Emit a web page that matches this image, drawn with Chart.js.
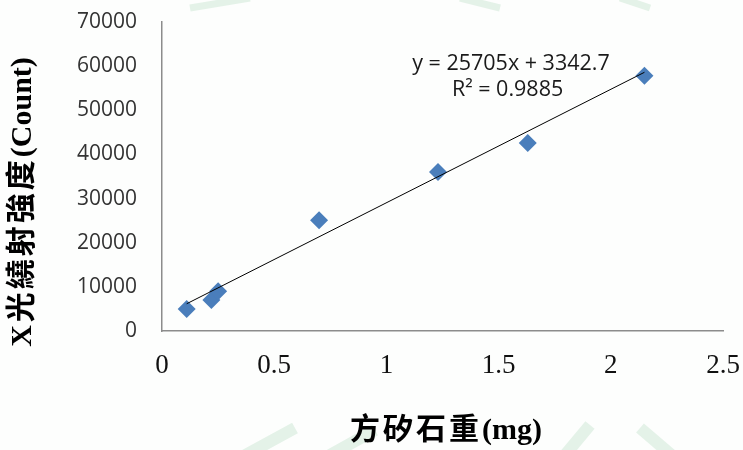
<!DOCTYPE html>
<html>
<head>
<meta charset="utf-8">
<script src="https://cdn.jsdelivr.net/npm/chart.js@4/dist/chart.umd.min.js"></script>
<style>
  html, body { margin: 0; padding: 0; background: #fdfefd; }
  #wrap { width: 743px; height: 450px; }
</style>
</head>
<body>
<div id="wrap"><canvas id="chart" width="743" height="450"></canvas></div>
<script>
// sample weights (mg) and X-ray intensity (count)
const weights = [0.11, 0.22, 0.25, 0.70, 1.23, 1.63, 2.15];
const counts = [5000, 7000, 9000, 25100, 36000, 42600, 57800];

// trendline from the equation shown on the chart
const slope = 25705;
const intercept = 3342.7;
const trendX = [0.11, 2.15];

const xTicks = [0, 0.5, 1, 1.5, 2, 2.5];
const yTicks = [0, 10000, 20000, 30000, 40000, 50000, 60000, 70000];

const equationText = "y = 25705x + 3342.7";
const r2Text = "R² = 0.9885";
const yTitleCjk = "X光繞射強度";
const yTitleLatin = "(Count)";
const xTitleCjk = "方矽石重";
const xTitleLatin = "(mg)";

const trendPoints = trendX.map(function (x) {
  return { x: x, y: slope * x + intercept };
});
const points = weights.map(function (w, i) {
  return { x: w, y: counts[i] };
});

// faint green watermark at top and bottom edges
const watermark = {
  id: "watermark",
  beforeDraw(chart) {
    const ctx = chart.ctx;
    ctx.save();
    ctx.fillStyle = "#fdfefd";
    ctx.fillRect(0, 0, chart.width, chart.height);
    ctx.strokeStyle = "rgba(140, 200, 160, 0.22)";
    ctx.lineWidth = 7;
    ctx.beginPath();
    ctx.moveTo(190, 8); ctx.lineTo(250, -2);
    ctx.moveTo(460, -2); ctx.lineTo(500, 8);
    ctx.moveTo(620, -2); ctx.lineTo(650, 8);
    ctx.stroke();
    ctx.lineWidth = 12;
    ctx.beginPath();
    ctx.moveTo(240, 458); ctx.lineTo(295, 428);
    ctx.moveTo(330, 455); ctx.lineTo(375, 430);
    ctx.moveTo(565, 455); ctx.lineTo(590, 425);
    ctx.moveTo(640, 428); ctx.lineTo(675, 458);
    ctx.stroke();
    ctx.restore();
  }
};

// draws a CJK part with letter spacing followed by a latin part without
function drawTitle(ctx, cjk, latin, cx, cy) {
  ctx.font = "bold 30px 'Liberation Serif', 'Noto Sans CJK TC'";
  ctx.letterSpacing = "3px";
  const w1 = ctx.measureText(cjk).width;
  ctx.letterSpacing = "0px";
  const w2 = ctx.measureText(latin).width;
  let x = cx - (w1 + w2) / 2;
  ctx.textAlign = "left";
  ctx.letterSpacing = "3px";
  ctx.fillText(cjk, x, cy);
  ctx.letterSpacing = "0px";
  ctx.fillText(latin, x + w1, cy);
}

// equation label and axis titles
const labels = {
  id: "labels",
  afterDraw(chart) {
    const ctx = chart.ctx;
    const xs = chart.scales.x;
    const ys = chart.scales.y;
    ctx.save();
    ctx.fillStyle = "#1a1a1a";
    ctx.font = "21.5px 'Open Sans'";
    ctx.textAlign = "center";
    ctx.textBaseline = "middle";
    ctx.fillText(equationText, xs.getPixelForValue(1.555), ys.getPixelForValue(60500));
    ctx.fillText(r2Text, xs.getPixelForValue(1.54), ys.getPixelForValue(54600));

    ctx.fillStyle = "#000";
    drawTitle(ctx, xTitleCjk, xTitleLatin, 446, 431);

    ctx.translate(23, 202);
    ctx.rotate(-Math.PI / 2);
    drawTitle(ctx, yTitleCjk, yTitleLatin, 0, 0);
    ctx.restore();
  }
};

new Chart(document.getElementById("chart"), {
  type: "scatter",
  data: {
    datasets: [
      {
        label: "trend",
        type: "line",
        data: trendPoints,
        borderColor: "#000",
        borderWidth: 1,
        pointRadius: 0,
        fill: false
      },
      {
        label: "data",
        data: points,
        pointStyle: "rectRot",
        pointRadius: 9,
        pointHoverRadius: 9,
        backgroundColor: "#4a7ebb",
        borderColor: "#4a7ebb",
        borderWidth: 0
      }
    ]
  },
  options: {
    responsive: false,
    animation: false,
    layout: { padding: { top: 22, right: 20, left: 0, bottom: 0 } },
    plugins: { legend: { display: false }, tooltip: { enabled: false } },
    scales: {
      x: {
        type: "linear",
        min: 0,
        max: 2.5,
        afterBuildTicks: function (s) { s.ticks = xTicks.map(function (v) { return { value: v }; }); },
        afterFit: function (s) {
          s.height = 119;
          s.paddingLeft = 0;
          s.paddingRight = 0;
        },
        grid: { display: false, drawTicks: false },
        border: { display: true, color: "#8c8c8c", width: 1.5 },
        ticks: {
          padding: 19,
          color: "#111",
          font: { family: "'Liberation Serif'", size: 27 },
          maxRotation: 0,
          callback: function (v) { return String(v); }
        }
      },
      y: {
        min: 0,
        max: 70000,
        afterBuildTicks: function (s) { s.ticks = yTicks.map(function (v) { return { value: v }; }); },
        afterFit: function (s) {
          s.width = 162;
          s.paddingTop = 0;
          s.paddingBottom = 0;
        },
        grid: { display: false, drawTicks: false },
        border: { display: true, color: "#8c8c8c", width: 1.5 },
        ticks: {
          padding: 25,
          color: "#333",
          font: { family: "'Open Sans'", size: 21 },
          callback: function (v) { return String(v); }
        }
      }
    }
  },
  plugins: [watermark, labels]
});
</script>
</body>
</html>
